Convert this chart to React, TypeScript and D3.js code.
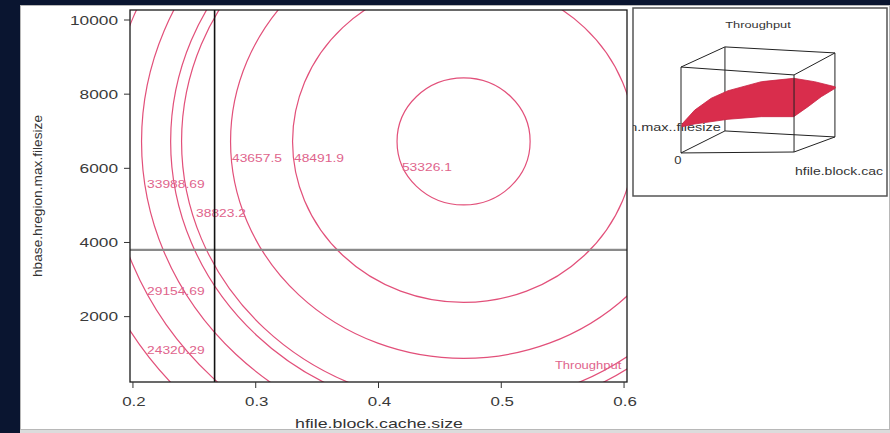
import React from 'react';
import * as d3 from 'd3';

// ---- data ----
const xTicks = [0.2, 0.3, 0.4, 0.5, 0.6];
const yTicks = [2000, 4000, 6000, 8000, 10000];
const xTickLabels = ['0.2', '0.3', '0.4', '0.5', '0.6'];
const yTickLabels = ['2000', '4000', '6000', '8000', '10000'];

// response-surface contours (approximately elliptical, common centre)
const contourLabels = ['53326.1', '48491.9', '43657.5', '38823.2', '', '33988.69', '29154.69', '24320.29'];
const contourCenterX = [0.4693, 0.4693, 0.4693, 0.4693, 0.4693, 0.4693, 0.4693, 0.4693];
const contourCenterY = [6725, 6725, 6725, 6725, 6725, 6725, 6725, 6725];
const contourHalfWidth = [0.0542, 0.1393, 0.1898, 0.2297, 0.2386, 0.2623, 0.29, 0.3176];
const contourHalfHeight = [1713, 4342, 5852, 7120, 7390, 8118, 8981, 9844];
const labelX = [0.4191, 0.3312, 0.2807, 0.2514, 0, 0.2115, 0.2115, 0.2115];
const labelY = [6009, 6278, 6278, 4795, 0, 5577, 2691, 1100];

const refX = 0.2665; // vertical marker
const refY = 3800; // horizontal marker

// inset 3D view (normalized projected coords)
const boxTop = [[0.189, 0.314], [0.362, 0.207], [0.795, 0.239], [0.634, 0.356]];
const boxBottom = [[0.189, 0.771], [0.362, 0.654], [0.795, 0.686], [0.634, 0.766]];
const surfaceOutline = [
  [0.193, 0.617], [0.243, 0.543], [0.308, 0.48], [0.374, 0.44], [0.505, 0.392], [0.633, 0.374],
  [0.715, 0.392], [0.796, 0.419], [0.796, 0.427], [0.741, 0.472], [0.689, 0.525], [0.633, 0.578],
  [0.505, 0.578], [0.374, 0.592], [0.243, 0.617], [0.193, 0.631],
];

const FONT = '"Liberation Sans", Arial, sans-serif';
const LINE = '#e2507a';
const LABEL = '#e0648c';

function SText(props: any) {
  const { x, y, sx = 1.3, anchor = 'start', size = 13, fill = '#333', children, weight } = props;
  return (
    <text
      transform={`translate(${x},${y}) scale(${sx},1)`}
      textAnchor={anchor}
      fontSize={size}
      fill={fill}
      fontFamily={FONT}
      fontWeight={weight}
      dy="0.35em"
    >
      {children}
    </text>
  );
}

export default function App() {
  const W = 890, H = 433;
  const L = 130, T = 10, R = 627, B = 382;
  const x = d3.scaleLinear().domain([0.1976, 0.6024]).range([L, R]);
  const y = d3.scaleLinear().domain([237, 10270]).range([B, T]);

  const ix = d3.scaleLinear().domain([0, 1]).range([633, 887]);
  const iy = d3.scaleLinear().domain([0, 1]).range([8, 196]);
  const seg = d3.line<number[]>().x((d) => ix(d[0])).y((d) => iy(d[1]));
  const surf = d3.line<number[]>().x((d) => ix(d[0])).y((d) => iy(d[1])).curve(d3.curveLinearClosed);

  const backEdges = [
    [boxTop[0], boxTop[1]], [boxTop[1], boxTop[2]], [boxTop[2], boxTop[3]], [boxTop[3], boxTop[0]],
    [boxBottom[0], boxBottom[1]], [boxBottom[1], boxBottom[2]], [boxBottom[2], boxBottom[3]],
    [boxTop[0], boxBottom[0]], [boxTop[1], boxBottom[1]], [boxTop[2], boxBottom[2]],
  ];
  const frontEdges = [
    [boxBottom[3], boxBottom[0]], [boxTop[3], boxBottom[3]],
  ];

  return (
    <svg width={W} height={H} style={{ position: 'absolute', left: 0, top: 0 }}>
      <defs>
        <clipPath id="plotClip">
          <rect x={L} y={T} width={R - L} height={B - T} />
        </clipPath>
        <clipPath id="insetClip">
          <rect x={633} y={8} width={254} height={188} />
        </clipPath>
      </defs>
      <rect x={0} y={0} width={W} height={H} fill="#0a1530" />
      <rect x={20} y={5} width={W - 20} height={H - 5} fill="#dcdcdc" />
      <rect x={20.5} y={5.5} width={W - 21} height={424} fill="#ffffff" stroke="#b8b8b8" strokeWidth={1} />

      {/* contours */}
      <g clipPath="url(#plotClip)">
        {contourHalfWidth.map((hw, i) => (
          <ellipse
            key={i}
            cx={x(contourCenterX[i])}
            cy={y(contourCenterY[i])}
            rx={x(contourCenterX[i] + hw) - x(contourCenterX[i])}
            ry={y(contourCenterY[i]) - y(contourCenterY[i] + contourHalfHeight[i])}
            fill="none"
            stroke={LINE}
            strokeWidth={1.2}
          />
        ))}
        {contourLabels.map((lab, i) =>
          lab ? (
            <SText key={i} x={x(labelX[i])} y={y(labelY[i])} size={10} sx={1.38} fill={LABEL}>
              {lab}
            </SText>
          ) : null
        )}
        <SText x={x(0.5437)} y={y(669)} size={10} sx={1.3} fill={LABEL}>Throughput</SText>
        <line x1={L} x2={R} y1={y(refY)} y2={y(refY)} stroke="#8a8a8a" strokeWidth={2.2} />
        <line x1={x(refX)} x2={x(refX)} y1={T} y2={B} stroke="#111" strokeWidth={1.6} />
      </g>

      {/* box */}
      <rect x={L} y={T} width={R - L} height={B - T} fill="none" stroke="#1a1a1a" strokeWidth={1.3} />

      {/* x axis */}
      {xTicks.map((t, i) => (
        <g key={t}>
          <line x1={x(t)} x2={x(t)} y1={B} y2={B + 6} stroke="#333" strokeWidth={1} />
          <SText x={x(t) + 1} y={401} anchor="middle" size={13} sx={1.3} fill="#3a3a3a">
            {xTickLabels[i]}
          </SText>
        </g>
      ))}
      {/* y axis */}
      {yTicks.map((t, i) => (
        <g key={t}>
          <line x1={L - 6} x2={L} y1={y(t)} y2={y(t)} stroke="#333" strokeWidth={1} />
          <SText x={118} y={y(t)} anchor="end" size={13.5} sx={1.28} fill="#3a3a3a">
            {yTickLabels[i]}
          </SText>
        </g>
      ))}
      <text
        x={379}
        y={423}
        dy="0.35em"
        textAnchor="middle"
        fontSize={13.5}
        fontFamily={FONT}
        fill="#333"
        textLength={168}
        lengthAdjust="spacingAndGlyphs"
      >
        hfile.block.cache.size
      </text>
      <text
        transform="translate(38,196) rotate(-90)"
        dy="0.35em"
        textAnchor="middle"
        fontSize={12}
        fontFamily={FONT}
        fill="#333"
        textLength={162}
        lengthAdjust="spacingAndGlyphs"
      >
        hbase.hregion.max.filesize
      </text>

      {/* inset */}
      <rect x={633} y={8} width={254} height={188} fill="#fff" stroke="#555" strokeWidth={1.5} />
      <g clipPath="url(#insetClip)">
        <SText x={ix(0.492)} y={iy(0.09)} anchor="middle" size={9.5} sx={1.35} fill="#333">Throughput</SText>
        {backEdges.map((e, i) => (
          <path key={i} d={seg(e) || ''} stroke="#222" strokeWidth={1} fill="none" />
        ))}
        <SText x={ix(0.346)} y={iy(0.636)} anchor="end" size={10} sx={1.45} fill="#333">n.max..filesize</SText>
        <path d={surf(surfaceOutline) || ''} fill="#d92d4c" stroke="#c92243" strokeWidth={0.8} />
        {frontEdges.map((e, i) => (
          <path key={i} d={seg(e) || ''} stroke="#222" strokeWidth={1} fill="none" />
        ))}
        <SText x={ix(0.177)} y={iy(0.809)} anchor="middle" size={10} sx={1.3} fill="#333">0</SText>
        <SText x={ix(0.638)} y={iy(0.871)} size={10} sx={1.4} fill="#333">hfile.block.cac</SText>
      </g>
    </svg>
  );
}
